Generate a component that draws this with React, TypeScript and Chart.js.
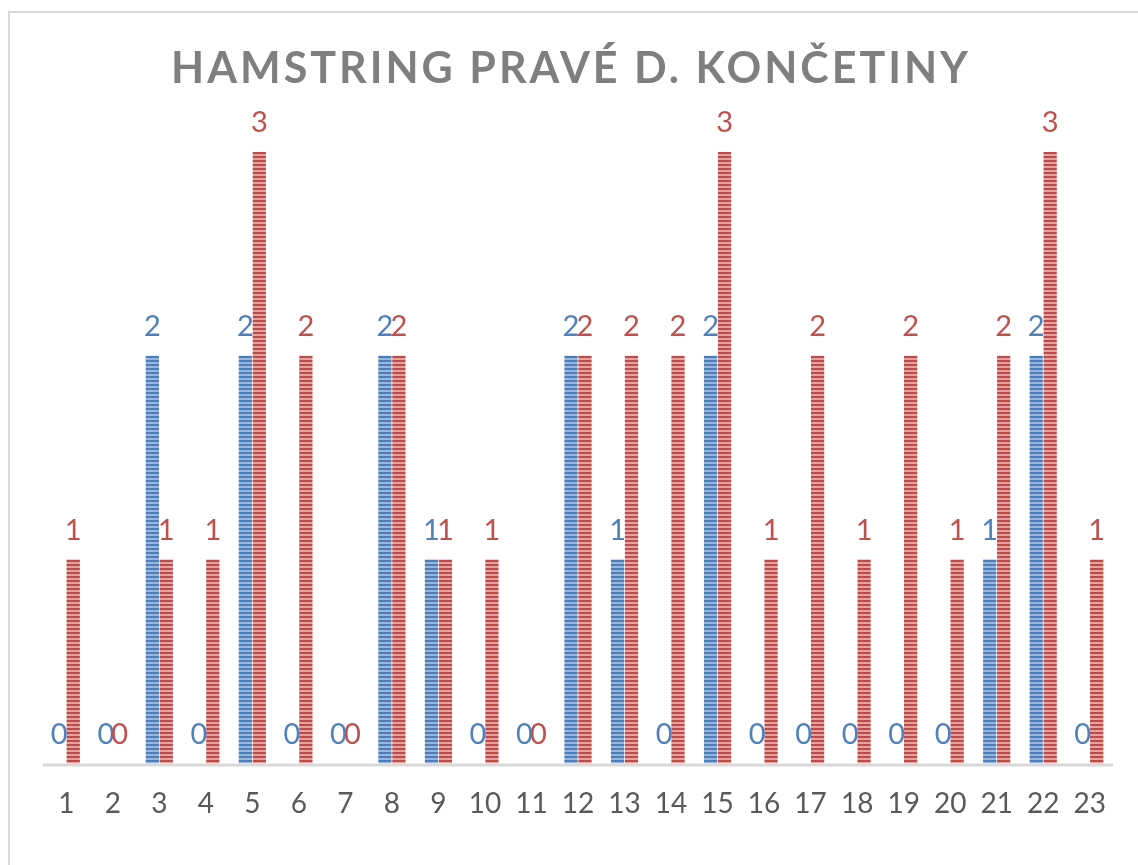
import React, { useEffect, useRef } from "react";
import { Chart, registerables } from "chart.js";

Chart.register(...registerables);

const categories = ["1","2","3","4","5","6","7","8","9","10","11","12","13","14","15","16","17","18","19","20","21","22","23"];
const seriesBlue = [0,0,2,0,2,0,0,2,1,0,0,2,1,0,2,0,0,0,0,0,1,2,0];
const seriesRed = [1,0,1,1,3,2,0,2,1,1,0,2,2,2,3,1,2,1,2,1,2,3,1];
const titleText = "HAMSTRING PRAVÉ D. KONČETINY";

const BLUE = "#4f81bd";
const RED = "#c0504d";

function makePattern(dark: string, light: string): CanvasPattern | string {
  const c = document.createElement("canvas");
  c.width = 4;
  c.height = 4;
  const g = c.getContext("2d");
  if (!g) return dark;
  g.fillStyle = light;
  g.fillRect(0, 0, 4, 4);
  g.fillStyle = dark;
  g.fillRect(0, 0, 4, 2);
  const p = g.createPattern(c, "repeat");
  return p || dark;
}

export default function App() {
  const ref = useRef<HTMLCanvasElement | null>(null);
  useEffect(() => {
    if (!ref.current) return;
    const axisLinePlugin = {
      id: "axisLine",
      beforeDatasetsDraw(chart: any) {
        const ctx = chart.ctx;
        const xs = chart.scales.x;
        const ys = chart.scales.y;
        const p0 = xs.getPixelForValue(0);
        const p1 = xs.getPixelForValue(1);
        const half = (p1 - p0) / 2;
        const x1 = p0 - half;
        const x2 = xs.getPixelForValue(categories.length - 1) + half;
        const y = ys.getPixelForValue(0) + 1.5;
        ctx.save();
        ctx.strokeStyle = "#d9d9d9";
        ctx.lineWidth = 3;
        ctx.beginPath();
        ctx.moveTo(x1, y);
        ctx.lineTo(x2, y);
        ctx.stroke();
        ctx.restore();
      },
    };
    const labelPlugin = {
      id: "valLabels",
      afterDatasetsDraw(chart: any) {
        const ctx = chart.ctx;
        ctx.save();
        ctx.font = "29px Lato";
        ctx.textAlign = "center";
        ctx.textBaseline = "middle";
        chart.data.datasets.forEach((ds: any, i: number) => {
          const meta = chart.getDatasetMeta(i);
          meta.data.forEach((el: any, j: number) => {
            ctx.fillStyle = ds.labelColor;
            ctx.fillText(String(ds.data[j]), el.x, el.y - 29);
          });
        });
        ctx.restore();
      },
    };
    const titlePlugin = {
      id: "spacedTitle",
      afterDraw(chart: any) {
        const ctx = chart.ctx;
        ctx.save();
        ctx.font = "bold 43px Lato";
        (ctx as any).letterSpacing = "3px";
        ctx.fillStyle = "#7f7f7f";
        ctx.textAlign = "center";
        ctx.textBaseline = "middle";
        ctx.fillText(titleText, 571, 69);
        ctx.restore();
      },
    };
    const chart = new Chart(ref.current, {
      type: "bar",
      data: {
        labels: categories,
        datasets: [
          {
            label: "L",
            data: seriesBlue,
            backgroundColor: makePattern("#4a7ebb", "#9ab6dd") as any,
            borderWidth: 0,
            labelColor: BLUE,
          } as any,
          {
            label: "P",
            data: seriesRed,
            backgroundColor: makePattern("#be4b48", "#e3a3a1") as any,
            borderWidth: 0,
            labelColor: RED,
          } as any,
        ],
      },
      options: {
        responsive: false,
        animation: false,
        categoryPercentage: 0.6,
        barPercentage: 0.95,
        layout: { padding: { left: 43, right: 25, top: 50, bottom: 20 } },
        plugins: {
          legend: { display: false },
          title: { display: false },
          tooltip: { enabled: false },
        },
        scales: {
          x: {
            grid: { display: false, drawTicks: false },
            border: { display: false },
            ticks: { color: "#595959", font: { size: 28, family: "Lato" }, padding: 24 },
          },
          y: {
            display: false,
            min: 0,
            max: 3.5,
          },
        },
      } as any,
      plugins: [axisLinePlugin, labelPlugin, titlePlugin],
    });
    return () => chart.destroy();
  }, []);
  return (
    <>
      <div
        style={{
          position: "absolute",
          left: 8,
          top: 11,
          width: 1140,
          height: 870,
          borderLeft: "2px solid #d9d9d9",
          borderTop: "2px solid #d9d9d9",
          boxSizing: "border-box",
        }}
      />
      <canvas
        ref={ref}
        width={1138}
        height={865}
        style={{ position: "absolute", left: 0, top: 0, width: 1138, height: 865 }}
      />
    </>
  );
}
